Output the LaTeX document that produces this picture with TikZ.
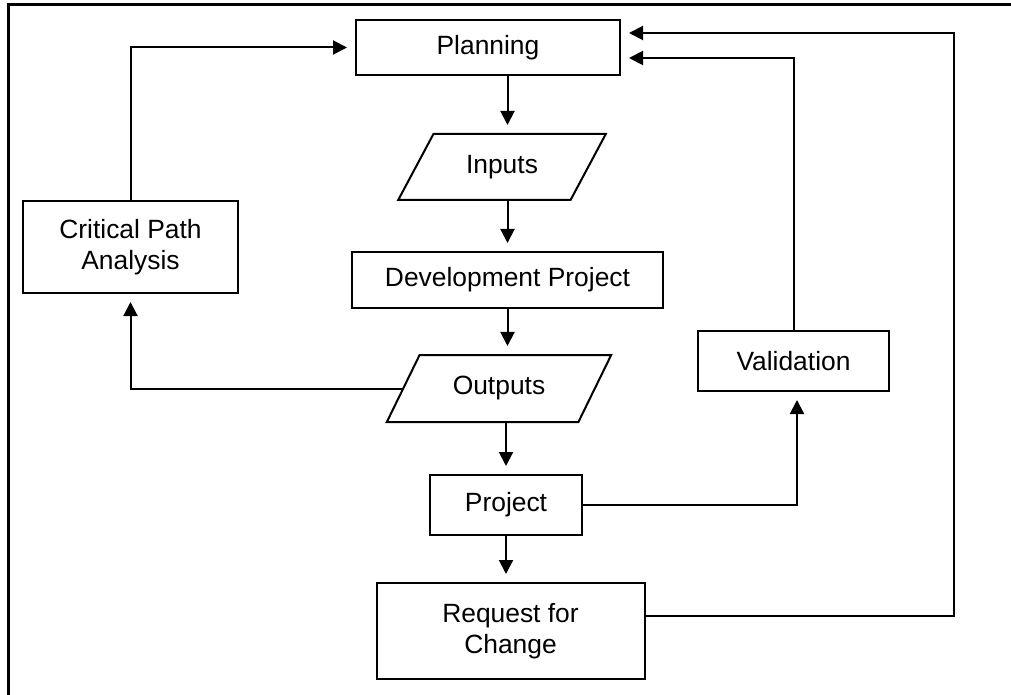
\documentclass[tikz,border=0pt]{standalone}
\usepackage{fontspec}
\setmainfont{Liberation Sans}
\usetikzlibrary{calc, shapes.geometric, positioning, arrows.meta}
\tikzset{
	flowbox/.style={draw, line width=1pt, align=center, inner sep=2pt},
	iobox/.style={draw, line width=1pt, trapezium, trapezium left angle=57, trapezium right angle=123, trapezium stretches=true, inner sep=2pt},
	flowarrow/.style={line width=1pt, -{Triangle[length=7pt,width=7pt]}, shorten >=4pt}
}

\begin{document}
\begin{tikzpicture}[x=0.5pt, y=-0.5pt, font=\fontsize{13.2}{15.5}\selectfont]
	\useasboundingbox (0,0) rectangle (1011,695);
	\draw[line width=1.5pt] (8,695) -- (8,5) -- (1011,5);
	\node[flowbox, minimum width=132pt, minimum height=27.5pt] (plan) at (488,47.5) {Planning};
	\node[iobox, minimum width=104pt, minimum height=33pt] (inp) at (502,167) {Inputs};
	\node[flowbox, minimum width=155.5pt, minimum height=28pt] (dev) at (507.5,280) {Development Project};
	\node[iobox, minimum width=113pt, minimum height=33.5pt] (out) at (499,388.5) {Outputs};
	\node[flowbox, minimum width=76pt, minimum height=30pt] (proj) at (506,505) {Project};
	\node[flowbox, minimum width=134pt, minimum height=48pt] (rfc) at (510.5,631) {Request for\\Change};
	\node[flowbox, minimum width=95.5pt, minimum height=30pt] (val) at (793.5,361) {Validation};
	\node[flowbox, minimum width=107.5pt, minimum height=46pt] (cpa) at (130.5,247) {Critical Path\\Analysis};
	\coordinate (rail) at (954,33);
	\draw[flowarrow] (cpa.north) |- (plan.west);
	\draw[flowarrow] (plan.south -| dev.north) -- (inp.north -| dev.north);
	\draw[flowarrow] (inp.south -| dev.north) -- (dev.north);
	\draw[flowarrow] (dev.south) -- (dev.south |- out.north);
	\draw[flowarrow] (out.south -| proj.north) -- (proj.north);
	\draw[flowarrow] (proj.south) -- (rfc.north -| proj.south);
	\draw[flowarrow] (out.west) -| (cpa.south);
	\draw[flowarrow] (proj.east) -| ([xshift=1.75pt]val.south);
	\draw[flowarrow] (val.north) |- ([yshift=-5.25pt]plan.east);
	\draw[flowarrow] ([yshift=7.5pt]rfc.east) -| (rail) -- (plan.east |- rail);
\end{tikzpicture}
\end{document}
